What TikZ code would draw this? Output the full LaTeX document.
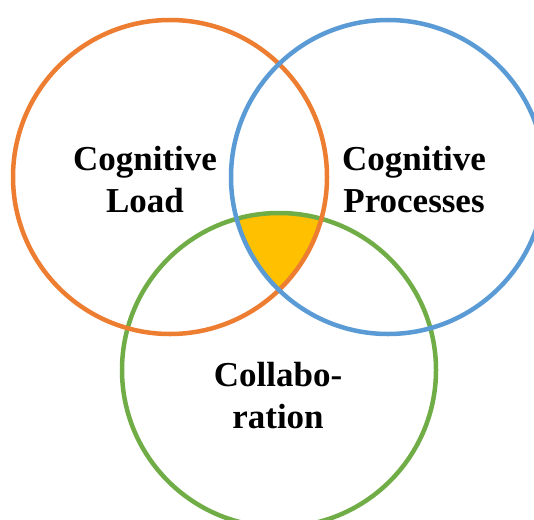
\documentclass[tikz,border=0pt]{standalone}
\usepackage{fontspec}
\setmainfont{Liberation Serif}
\definecolor{naranja}{HTML}{ED7D31}
\definecolor{azul}{HTML}{5B9BD5}
\definecolor{verde}{HTML}{70AD47}
\definecolor{amarillo}{HTML}{FFC000}
\tikzset{
  aro/.style={line width=4.5pt},
  rotulo/.style={align=center, inner sep=0pt, font=\fontsize{35}{42}\selectfont\bfseries}
}
\begin{document}
\begin{tikzpicture}[x=1pt, y=-1pt, line cap=round]
  \useasboundingbox (0,0) rectangle (534,519);
  % ── centros de los tres círculos (r = 157) ──
  \coordinate (cCarga) at (170,177);
  \coordinate (cProc)  at (388,177);
  \coordinate (cColab) at (279,370);
  % ── zona común: relleno amarillo bajo los aros ──
  \begin{scope}
    \clip (cCarga) circle (157);
    \clip (cProc) circle (157);
    \fill[amarillo] (cColab) circle (157);
  \end{scope}
  % ── aros: verde abajo, naranja en medio, azul encima ──
  \draw[aro, verde]   (cColab) circle (157);
  \draw[aro, naranja] (cCarga) circle (157);
  \draw[aro, azul]    (cProc) circle (157);
  % ── rótulos ──
  \node[rotulo] (carga) at (145,180) {Cognitive\\Load};
  \node[rotulo] (proc)  at (414,180) {Cognitive\\Processes};
  \node[rotulo] (colab) at (278,396) {Collabo-\\ration};
\end{tikzpicture}
\end{document}
